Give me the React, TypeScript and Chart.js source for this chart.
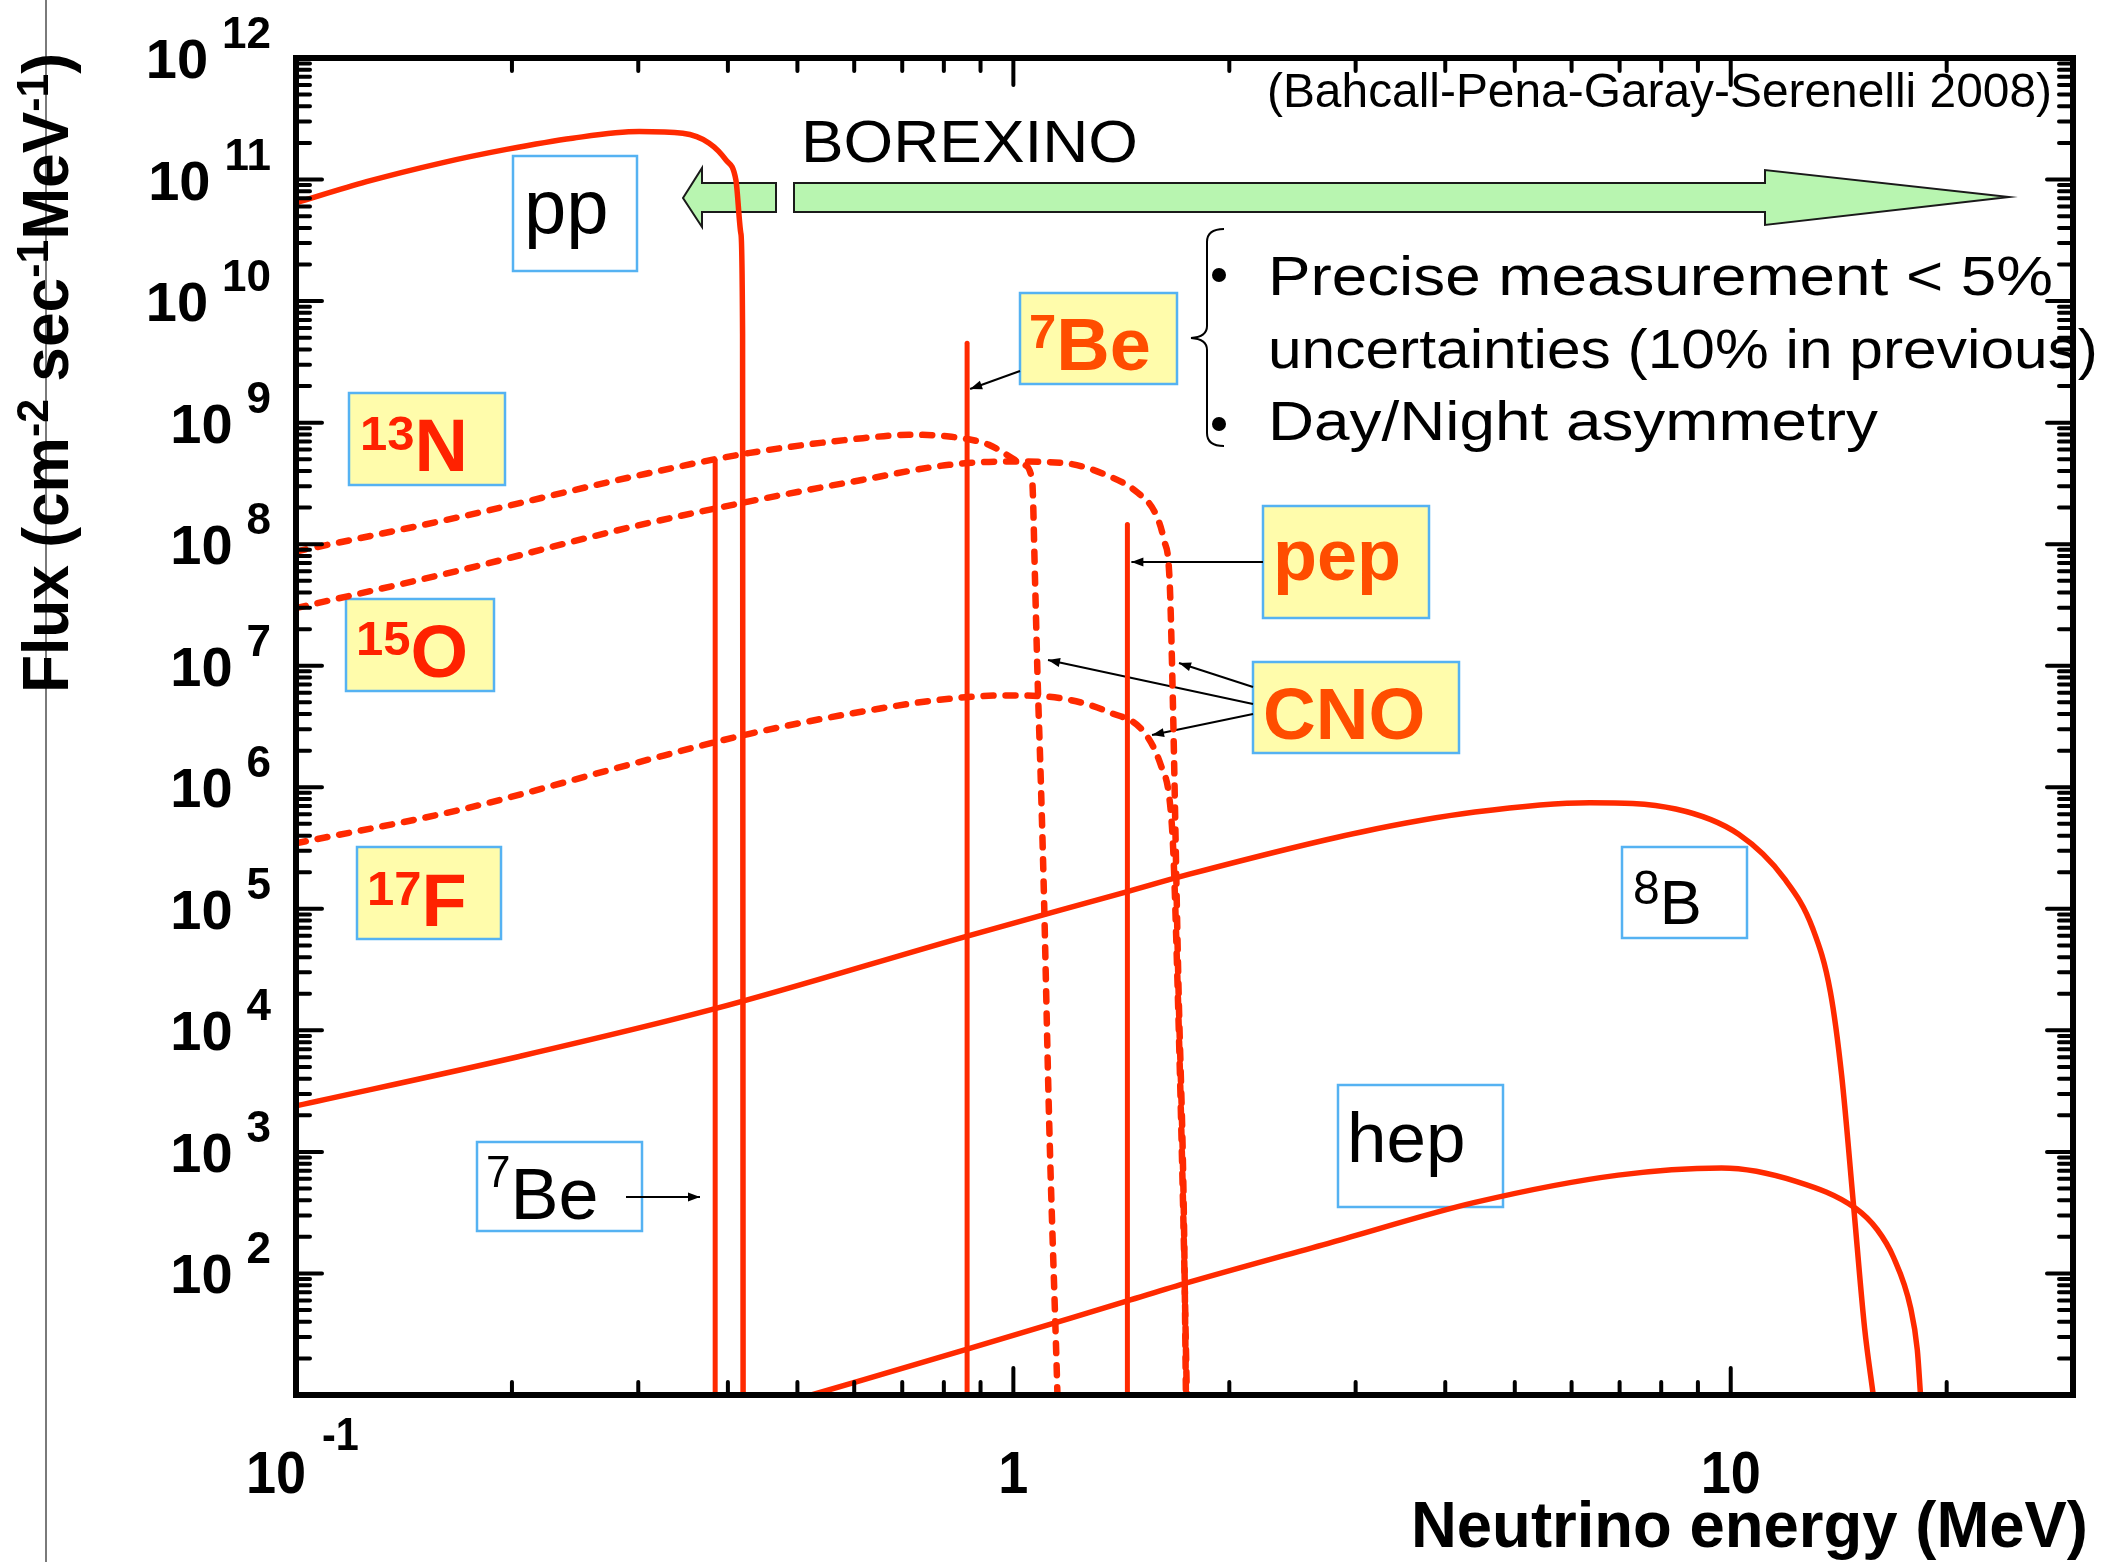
import React, { useEffect, useRef } from "react";
import { Chart, registerables } from "chart.js";

Chart.register(...registerables);

// ---------------- Data (energy in MeV, flux in cm^-2 s^-1 MeV^-1) ----------------
const ppEnergy = [0.1, 0.1254, 0.1586, 0.1965, 0.243, 0.301, 0.346, 0.3767, 0.3974, 0.4104, 0.417, 0.4193, 0.42];
const ppFlux = [6.43e10, 9.6e10, 1.36e11, 1.77e11, 2.19e11, 2.48e11, 2.4e11, 1.99e11, 1.45e11, 9.9e10, 3.6e10, 5.4e9, 10];

const n13Energy = [0.1, 0.1703, 0.2958, 0.4272, 0.6172, 0.7152, 0.8137, 0.925, 1.0047, 1.033, 1.062, 1.072, 1.081, 1.092, 1.102, 1.122, 1.149, 1.152];
const n13Flux = [8.71e7, 1.69e8, 3.61e8, 5.61e8, 7.45e8, 7.94e8, 7.69e8, 6.56e8, 4.94e8, 4.5e8, 3.39e8, 5.09e7, 7.67e6, 1.15e6, 1.66e5, 1.69e3, 17.2, 10];

const o15Energy = [0.1, 0.1703, 0.2958, 0.4272, 0.6172, 0.8137, 0.9777, 1.175, 1.362, 1.493, 1.577, 1.621, 1.651, 1.666, 1.698, 1.729, 1.74];
const o15Flux = [2.98e7, 6.15e7, 1.4e8, 2.24e8, 3.39e8, 4.5e8, 4.79e8, 4.65e8, 3.61e8, 2.63e8, 1.8e8, 1.09e8, 5.09e7, 7.67e6, 2.65e4, 269, 10];

const f17Energy = [0.1, 0.1703, 0.2958, 0.4272, 0.6172, 0.8137, 0.9777, 1.175, 1.362, 1.52, 1.606, 1.651, 1.67, 1.693, 1.726, 1.745];
const f17Flux = [3.46e5, 6.58e5, 1.57e6, 2.74e6, 4.21e6, 5.35e6, 5.7e6, 5.35e6, 4.13e6, 2.86e6, 1.51e6, 7.91e5, 3.16e5, 2.65e4, 269, 10];

const b8Energy = [0.1, 0.2047, 0.3827, 0.86, 1.438, 1.754, 3.045, 4.4, 6.36, 8.38, 10.26, 11.88, 13.02, 13.77, 14.28, 14.82, 15.37, 15.8];
const b8Flux = [2.39e3, 6.1e3, 1.5e4, 5.94e4, 1.38e5, 1.92e5, 4.27e5, 6.25e5, 7.46e5, 6.62e5, 4.1e5, 1.77e5, 6.82e4, 2.07e4, 4.2e3, 384, 35.2, 10];

const hepEnergy = [0.523, 0.86, 1.438, 1.754, 2.778, 4.4, 6.97, 9.71, 12.33, 14.96, 16.0, 16.86, 17.81, 18.2, 18.39];
const hepFlux = [10, 23.7, 59.2, 84.3, 180, 384, 644, 738, 573, 341, 230, 136, 52.4, 23.6, 10];

// monochromatic lines
const be7LineEnergy = [0.384, 0.862];
const be7LineFlux = [4.9e8, 4.5e9];
const pepLineEnergy = [1.442];
const pepLineFlux = [1.45e8];

// axes
const xMin = 0.1;
const xMax = 30;
const yMin = 10;
const yMax = 1e12;
const xLabelValues = [0.1, 1, 10];
const xLabelBase = ["10", "1", "10"];
const xLabelExp = ["-1", "", ""];
const yLabelExponents = [2, 3, 4, 5, 6, 7, 8, 9, 10, 11, 12];

// ---------------- Styling ----------------
const FONT = '"Liberation Sans", Arimo, Arial, Helvetica, sans-serif';
const RED = "#ff2a00";
const LABEL_RED = "#ff2200";
const LABEL_ORANGE = "#ff4d00";
const BOX_BLUE = "#55b2f2";
const YELLOW = "#fffcab";
const GREEN = "#b8f5b0";

type Run = { t: string; s: number; dy?: number };
interface RichOpts {
  color?: string;
  weight?: string;
  width?: number;
  sx?: number;
  align?: "left" | "center" | "right";
}

function drawRich(ctx: CanvasRenderingContext2D, runs: Run[], x: number, y: number, o: RichOpts = {}) {
  const weight = o.weight ?? "normal";
  const ws: number[] = [];
  let natural = 0;
  for (const r of runs) {
    ctx.font = `${weight} ${r.s}px ${FONT}`;
    const w = ctx.measureText(r.t).width;
    ws.push(w);
    natural += w;
  }
  const sx = o.width ? o.width / natural : o.sx ?? 1;
  ctx.save();
  ctx.translate(x, y);
  ctx.scale(sx, 1);
  ctx.fillStyle = o.color ?? "#000";
  ctx.textAlign = "left";
  ctx.textBaseline = "alphabetic";
  let cx = o.align === "center" ? -natural / 2 : o.align === "right" ? -natural : 0;
  runs.forEach((r, i) => {
    ctx.font = `${weight} ${r.s}px ${FONT}`;
    ctx.fillText(r.t, cx, r.dy ?? 0);
    cx += ws[i];
  });
  ctx.restore();
}

function box(ctx: CanvasRenderingContext2D, x1: number, y1: number, x2: number, y2: number, fill: string) {
  ctx.fillStyle = fill;
  ctx.fillRect(x1, y1, x2 - x1, y2 - y1);
  ctx.strokeStyle = BOX_BLUE;
  ctx.lineWidth = 2.5;
  ctx.strokeRect(x1, y1, x2 - x1, y2 - y1);
}

function arrow(ctx: CanvasRenderingContext2D, x1: number, y1: number, x2: number, y2: number) {
  ctx.strokeStyle = "#000";
  ctx.fillStyle = "#000";
  ctx.lineWidth = 2;
  ctx.beginPath();
  ctx.moveTo(x1, y1);
  ctx.lineTo(x2, y2);
  ctx.stroke();
  const a = Math.atan2(y2 - y1, x2 - x1);
  const L = 12;
  const w = 4.5;
  ctx.beginPath();
  ctx.moveTo(x2, y2);
  ctx.lineTo(x2 - L * Math.cos(a) + w * Math.sin(a), y2 - L * Math.sin(a) - w * Math.cos(a));
  ctx.lineTo(x2 - L * Math.cos(a) - w * Math.sin(a), y2 - L * Math.sin(a) + w * Math.cos(a));
  ctx.closePath();
  ctx.fill();
}

function poly(ctx: CanvasRenderingContext2D, pts: number[][]) {
  ctx.beginPath();
  pts.forEach((p, i) => (i === 0 ? ctx.moveTo(p[0], p[1]) : ctx.lineTo(p[0], p[1])));
  ctx.closePath();
  ctx.fill();
  ctx.stroke();
}

const backgroundPlugin = {
  id: "bg",
  beforeDraw(chart: any) {
    const { ctx, width, height } = chart;
    ctx.save();
    ctx.fillStyle = "#fff";
    ctx.fillRect(0, 0, width, height);
    // thin slide divider line at the far left
    ctx.strokeStyle = "#7a7a7a";
    ctx.lineWidth = 2;
    ctx.beginPath();
    ctx.moveTo(46, 0);
    ctx.lineTo(46, height);
    ctx.stroke();
    ctx.restore();
  },
};

const annotationPlugin = {
  id: "annotations",
  beforeDatasetsDraw(chart: any) {
    const ctx: CanvasRenderingContext2D = chart.ctx;
    const xs = chart.scales.x;
    ctx.save();

    // BOREXINO arrows
    ctx.fillStyle = GREEN;
    ctx.strokeStyle = "#1a1a1a";
    ctx.lineWidth = 2;
    ctx.lineJoin = "miter";
    poly(ctx, [[683, 198], [702, 168], [702, 183], [776, 183], [776, 212], [702, 212], [702, 227]]);
    poly(ctx, [[794, 183], [1765, 183], [1765, 170], [2009, 197], [1765, 225], [1765, 212], [794, 212]]);
    drawRich(ctx, [{ t: "BOREXINO", s: 60 }], 801, 162, { width: 337 });

    drawRich(ctx, [{ t: "(Bahcall-Pena-Garay-Serenelli 2008)", s: 49 }], 1267, 107, { width: 785 });

    // brace + bullet text
    ctx.strokeStyle = "#000";
    ctx.lineWidth = 2;
    ctx.beginPath();
    ctx.moveTo(1224, 229);
    ctx.quadraticCurveTo(1207, 229, 1207, 242);
    ctx.lineTo(1207, 326);
    ctx.quadraticCurveTo(1207, 337, 1191, 338);
    ctx.quadraticCurveTo(1207, 339, 1207, 350);
    ctx.lineTo(1207, 433);
    ctx.quadraticCurveTo(1207, 446, 1224, 446);
    ctx.stroke();
    ctx.fillStyle = "#000";
    ctx.beginPath();
    ctx.arc(1219, 275, 7, 0, Math.PI * 2);
    ctx.fill();
    ctx.beginPath();
    ctx.arc(1219, 424, 7, 0, Math.PI * 2);
    ctx.fill();
    drawRich(ctx, [{ t: "Precise measurement < 5%", s: 56 }], 1268, 295, { width: 785 });
    drawRich(ctx, [{ t: "uncertainties (10% in previous)", s: 56 }], 1268, 368, { width: 830 });
    drawRich(ctx, [{ t: "Day/Night asymmetry", s: 56 }], 1268, 440, { width: 610 });

    // pp label
    box(ctx, 513, 156, 637, 271, "#fff");
    drawRich(ctx, [{ t: "pp", s: 76 }], 524, 233);

    // 7Be (yellow)
    box(ctx, 1020, 293, 1177, 384, YELLOW);
    drawRich(ctx, [{ t: "7", s: 49, dy: -22 }, { t: "Be", s: 74 }], 1029, 370, { color: LABEL_ORANGE, weight: "bold" });
    const be7x = xs.getPixelForValue(be7LineEnergy[1]);
    arrow(ctx, 1020, 371, be7x + 3, 389);

    // CNO isotopes
    box(ctx, 349, 393, 505, 485, YELLOW);
    drawRich(ctx, [{ t: "13", s: 49, dy: -21 }, { t: "N", s: 74 }], 360, 471, { color: LABEL_RED, weight: "bold" });
    box(ctx, 346, 599, 494, 691, YELLOW);
    drawRich(ctx, [{ t: "15", s: 49, dy: -22 }, { t: "O", s: 74 }], 356, 677, { color: LABEL_RED, weight: "bold" });
    box(ctx, 357, 847, 501, 939, YELLOW);
    drawRich(ctx, [{ t: "17", s: 49, dy: -21 }, { t: "F", s: 74 }], 367, 926, { color: LABEL_RED, weight: "bold" });

    // pep
    box(ctx, 1263, 506, 1429, 618, YELLOW);
    drawRich(ctx, [{ t: "pep", s: 72 }], 1273, 580, { color: LABEL_ORANGE, weight: "bold" });
    const pepx = xs.getPixelForValue(pepLineEnergy[0]);
    arrow(ctx, 1263, 562, pepx + 4, 562);

    // CNO
    box(ctx, 1253, 662, 1459, 753, YELLOW);
    drawRich(ctx, [{ t: "CNO", s: 73 }], 1263, 739, { color: LABEL_ORANGE, weight: "bold" });
    arrow(ctx, 1253, 687, 1179, 663);
    arrow(ctx, 1253, 704, 1048, 660);
    arrow(ctx, 1253, 714, 1152, 735);

    // 8B
    box(ctx, 1622, 847, 1747, 938, "#fff");
    drawRich(ctx, [{ t: "8", s: 48, dy: -20 }, { t: "B", s: 63 }], 1633, 924);

    // hep
    box(ctx, 1338, 1085, 1503, 1207, "#fff");
    drawRich(ctx, [{ t: "hep", s: 71 }], 1347, 1162);

    // 7Be (lower)
    box(ctx, 477, 1142, 642, 1231, "#fff");
    drawRich(ctx, [{ t: "7", s: 44, dy: -32 }, { t: "Be", s: 72 }], 486, 1219);
    arrow(ctx, 626, 1197, 700, 1197);

    ctx.restore();
  },
};

const axesPlugin = {
  id: "axesFrame",
  afterDatasetsDraw(chart: any) {
    const ctx: CanvasRenderingContext2D = chart.ctx;
    const a = chart.chartArea;
    const xs = chart.scales.x;
    const ys = chart.scales.y;
    ctx.save();
    ctx.strokeStyle = "#000";
    ctx.lineCap = "round";
    ctx.lineWidth = 4;
    ctx.beginPath();
    // x ticks (bottom, top)
    for (const dec of [0.1, 1, 10]) {
      for (let m = 1; m <= 9; m++) {
        const v = m * dec;
        if (v <= xMin * 1.0001 || v >= xMax * 0.9999) continue;
        const px = xs.getPixelForValue(v);
        const len = m === 1 ? 27 : 13;
        ctx.moveTo(px, a.bottom);
        ctx.lineTo(px, a.bottom - len);
        ctx.moveTo(px, a.top);
        ctx.lineTo(px, a.top + len);
      }
    }
    // y ticks (left, right)
    for (let e = 1; e <= 11; e++) {
      for (let m = 1; m <= 9; m++) {
        const v = m * Math.pow(10, e);
        if (v <= yMin * 1.0001 || v >= yMax * 0.9999) continue;
        const py = ys.getPixelForValue(v);
        const len = m === 1 ? 26 : 14;
        ctx.moveTo(a.left, py);
        ctx.lineTo(a.left + len, py);
        ctx.moveTo(a.right, py);
        ctx.lineTo(a.right - len, py);
      }
    }
    ctx.stroke();
    // frame
    ctx.lineWidth = 6;
    ctx.lineCap = "butt";
    ctx.strokeRect(a.left, a.top, a.right - a.left, a.bottom - a.top);

    // y tick labels
    ctx.fillStyle = "#000";
    for (const e of yLabelExponents) {
      const py = ys.getPixelForValue(Math.pow(10, e));
      ctx.font = `bold 44px ${FONT}`;
      ctx.textAlign = "left";
      ctx.textBaseline = "alphabetic";
      const es = String(e);
      const we = ctx.measureText(es).width;
      const expLeft = a.left - 25 - we;
      ctx.fillText(es, expLeft, py - 10);
      ctx.font = `bold 56px ${FONT}`;
      ctx.textAlign = "right";
      ctx.fillText("10", expLeft - 14, py + 20);
    }

    // x tick labels
    xLabelValues.forEach((v, i) => {
      const px = xs.getPixelForValue(v);
      if (xLabelExp[i]) {
        drawRich(ctx, [{ t: xLabelBase[i], s: 60 }], px - 20, a.bottom + 98, { weight: "bold", align: "center", sx: 0.9 });
        drawRich(ctx, [{ t: xLabelExp[i], s: 46 }], px + 26, a.bottom + 55, { weight: "bold", sx: 0.9 });
      } else {
        drawRich(ctx, [{ t: xLabelBase[i], s: 60 }], px, a.bottom + 98, { weight: "bold", align: "center", sx: 0.9 });
      }
    });

    // axis titles
    drawRich(ctx, [{ t: "Neutrino energy (MeV)", s: 65 }], 1411, 1547, { weight: "bold", width: 677 });
    ctx.save();
    ctx.translate(68, 693);
    ctx.rotate(-Math.PI / 2);
    drawRich(
      ctx,
      [
        { t: "Flux (cm", s: 64 },
        { t: "-2", s: 44, dy: -20 },
        { t: " sec", s: 64 },
        { t: "-1", s: 44, dy: -20 },
        { t: "MeV", s: 64 },
        { t: "-1", s: 44, dy: -20 },
        { t: ")", s: 64 },
      ],
      0,
      0,
      { weight: "bold", width: 640 }
    );
    ctx.restore();
    ctx.restore();
  },
};

const pts = (E: number[], F: number[]) => E.map((e, i) => ({ x: e, y: F[i] }));
const vline = (e: number, f: number) => [
  { x: e, y: yMin },
  { x: e, y: f },
];

export default function App() {
  const ref = useRef<HTMLCanvasElement | null>(null);
  useEffect(() => {
    if (!ref.current) return;
    const solid = { borderColor: RED, borderWidth: 5.5, pointRadius: 0, fill: false };
    const dashed = { borderColor: RED, borderWidth: 6.5, pointRadius: 0, fill: false, borderDash: [10, 12], borderCapStyle: "round" };
    const line = { borderColor: RED, borderWidth: 5, pointRadius: 0, fill: false, tension: 0, cubicInterpolationMode: "default" };
    const chart = new Chart(ref.current, {
      type: "line",
      data: {
        datasets: [
          { label: "13N", data: pts(n13Energy, n13Flux), ...dashed },
          { label: "15O", data: pts(o15Energy, o15Flux), ...dashed },
          { label: "17F", data: pts(f17Energy, f17Flux), ...dashed },
          { label: "pp", data: pts(ppEnergy, ppFlux), ...solid },
          { label: "8B", data: pts(b8Energy, b8Flux), ...solid },
          { label: "hep", data: pts(hepEnergy, hepFlux), ...solid },
          { label: "7Be 0.384", data: vline(be7LineEnergy[0], be7LineFlux[0]), ...line },
          { label: "7Be 0.862", data: vline(be7LineEnergy[1], be7LineFlux[1]), ...line },
          { label: "pep", data: vline(pepLineEnergy[0], pepLineFlux[0]), ...line },
        ] as any,
      },
      options: {
        responsive: false,
        animation: false,
        devicePixelRatio: 1,
        events: [],
        layout: { padding: { left: 296, right: 43, top: 58, bottom: 167 } },
        elements: {
          point: { radius: 0 },
          line: { cubicInterpolationMode: "monotone", borderJoinStyle: "round", borderCapStyle: "round" },
        },
        plugins: { legend: { display: false }, tooltip: { enabled: false }, title: { display: false } },
        scales: {
          x: { type: "logarithmic", min: xMin, max: xMax, display: false, bounds: "data" },
          y: { type: "logarithmic", min: yMin, max: yMax, display: false, bounds: "data" },
        },
      } as any,
      plugins: [backgroundPlugin, annotationPlugin, axesPlugin],
    });
    return () => chart.destroy();
  }, []);

  return (
    <div style={{ position: "absolute", left: 0, top: 0, width: 2116, height: 1562, background: "#fff" }}>
      <canvas ref={ref} width={2116} height={1562} style={{ display: "block", width: 2116, height: 1562 }} />
    </div>
  );
}
